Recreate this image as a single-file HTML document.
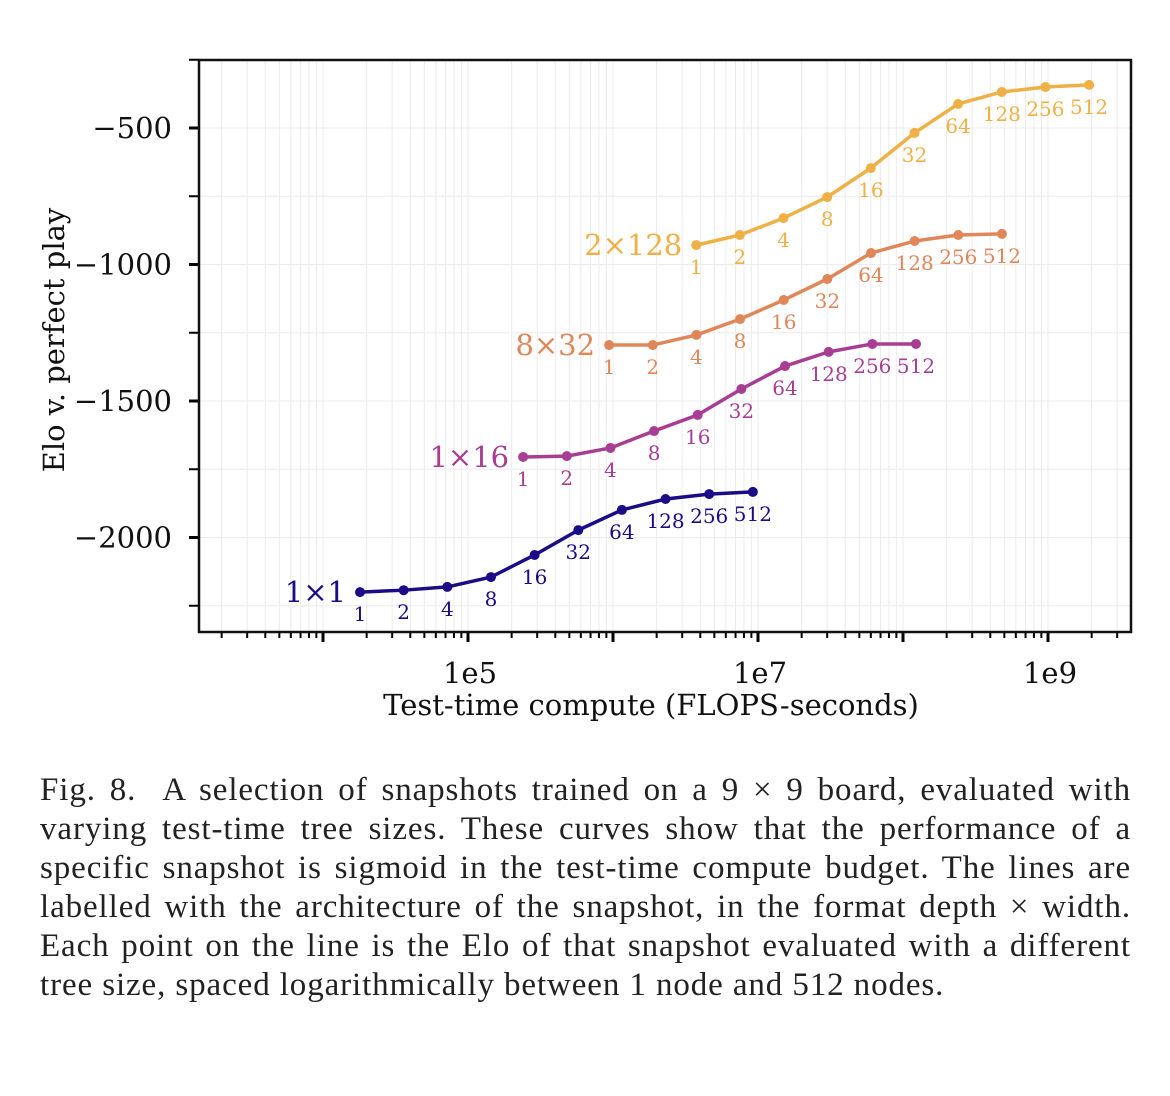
<!DOCTYPE html>
<html><head><meta charset="utf-8"><style>
body{margin:0;background:#fff;width:1170px;height:1096px;overflow:hidden}
#cap{position:absolute;left:40px;top:771px;width:1091px;font-family:"Liberation Serif",serif;font-size:33px;letter-spacing:0.9px;line-height:39px;color:#222}
#cap div{text-align:justify;text-align-last:justify;white-space:nowrap;height:39px}
#cap div.last{text-align-last:left}
</style></head><body>
<svg id="chart" width="1170" height="760" style="position:absolute;left:0;top:0" font-family="DejaVu Serif, serif"></svg>
<div id="cap">
<div>Fig. 8.&nbsp; A selection of snapshots trained on a 9 × 9 board, evaluated with</div>
<div>varying test-time tree sizes. These curves show that the performance of a</div>
<div>specific snapshot is sigmoid in the test-time compute budget. The lines are</div>
<div>labelled with the architecture of the snapshot, in the format depth × width.</div>
<div>Each point on the line is the Elo of that snapshot evaluated with a different</div>
<div class="last">tree size, spaced logarithmically between 1 node and 512 nodes.</div>
</div>
<script>
const treeSizes=[1,2,4,8,16,32,64,128,256,512];
const seriesNames=["1×1","1×16","8×32","2×128"];
const seriesStartFlops=[1.8e4,2.4e5,9.4e5,3.75e6];
const elo1x1=[-2200,-2193,-2181,-2145,-2064,-1973,-1899,-1859,-1841,-1833];
const elo1x16=[-1705,-1702,-1672,-1610,-1551,-1456,-1372,-1320,-1291,-1291];
const elo8x32=[-1295,-1295,-1258,-1200,-1130,-1053,-958,-914,-892,-888];
const elo2x128=[-929,-892,-830,-753,-647,-518,-412,-368,-350,-342];
const yTicks=[-500,-1000,-1500,-2000];
const xTickLabels=["1e5","1e7","1e9"];
const xTickVals=[1e5,1e7,1e9];
const colors=["#1a0c86","#a83e93","#e0875a","#efb045"];
const allElo=[elo1x1,elo1x16,elo8x32,elo2x128];
const L=199,R=1131,T=60,B=632;
const X=v=>468+(Math.log10(v)-5)*145;
const Y=v=>128+(-500-v)/500*136.5;
const svg=document.getElementById('chart');
const NS="http://www.w3.org/2000/svg";
function mk(tag,at,parent){const e=document.createElementNS(NS,tag);for(const k in at)e.setAttribute(k,at[k]);(parent||svg).appendChild(e);return e;}
for(let d=3;d<=9;d++)for(let m=1;m<10;m++){const v=m*Math.pow(10,d);const x=X(v);if(x<=L||x>=R)continue;
 const g=mk('line',{x1:x,x2:x,y1:T,y2:B,stroke:'#ececec','stroke-width':1});
 const t=mk('line',{x1:x,x2:x,y1:B,y2:B+(m==1?10:6),stroke:'#000','stroke-width':m==1?3:2});}
for(let v=-250;v>=-2250;v-=250){const y=Y(v);
 const g=mk('line',{x1:L,x2:R,y1:y,y2:y,stroke:'#ececec','stroke-width':1});
 const t=mk('line',{x1:L-10,x2:L,y1:y,y2:y,stroke:'#000','stroke-width':v%500==0?3:2});}
yTicks.forEach(v=>{const t=mk('text',{x:L-27,y:Y(v)+10,'text-anchor':'end','font-size':29,fill:'#111'});t.textContent='−'+(-v);});
xTickVals.forEach((v,i)=>{const t=mk('text',{x:X(v)+2,y:683,'text-anchor':'middle','font-size':29,fill:'#111'});t.textContent=xTickLabels[i];});
const fr=mk('rect',{x:L,y:T,width:R-L,height:B-T,fill:'none',stroke:'#111','stroke-width':2.5});
let xt=mk('text',{x:651,y:715,'text-anchor':'middle','font-size':29,fill:'#111'});xt.textContent='Test-time compute (FLOPS-seconds)';
let yt=mk('text',{x:0,y:0,'text-anchor':'middle','font-size':29,fill:'#111',transform:'translate(64,340) rotate(-90)'});yt.textContent='Elo v. perfect play';
allElo.forEach((elo,s)=>{
 const c=colors[s];const g=mk('g',{});
 const pts=elo.map((v,i)=>[X(seriesStartFlops[s]*treeSizes[i]),Y(v)]);
 const pl=mk('polyline',{points:pts.map(p=>p.join(',')).join(' '),fill:'none',stroke:c,'stroke-width':3.5,'stroke-linejoin':'round'},g);
 pts.forEach((p,i)=>{const d=mk('circle',{cx:p[0],cy:p[1],r:5,fill:c},g);
  const t=mk('text',{x:p[0],y:p[1]+29,'text-anchor':'middle','font-size':20,fill:c},g);t.textContent=treeSizes[i];});
 const n=mk('text',{x:pts[0][0]-14,y:pts[0][1]+10,'text-anchor':'end','font-size':29,fill:c},g);n.textContent=seriesNames[s];
});
</script>
</body></html>
